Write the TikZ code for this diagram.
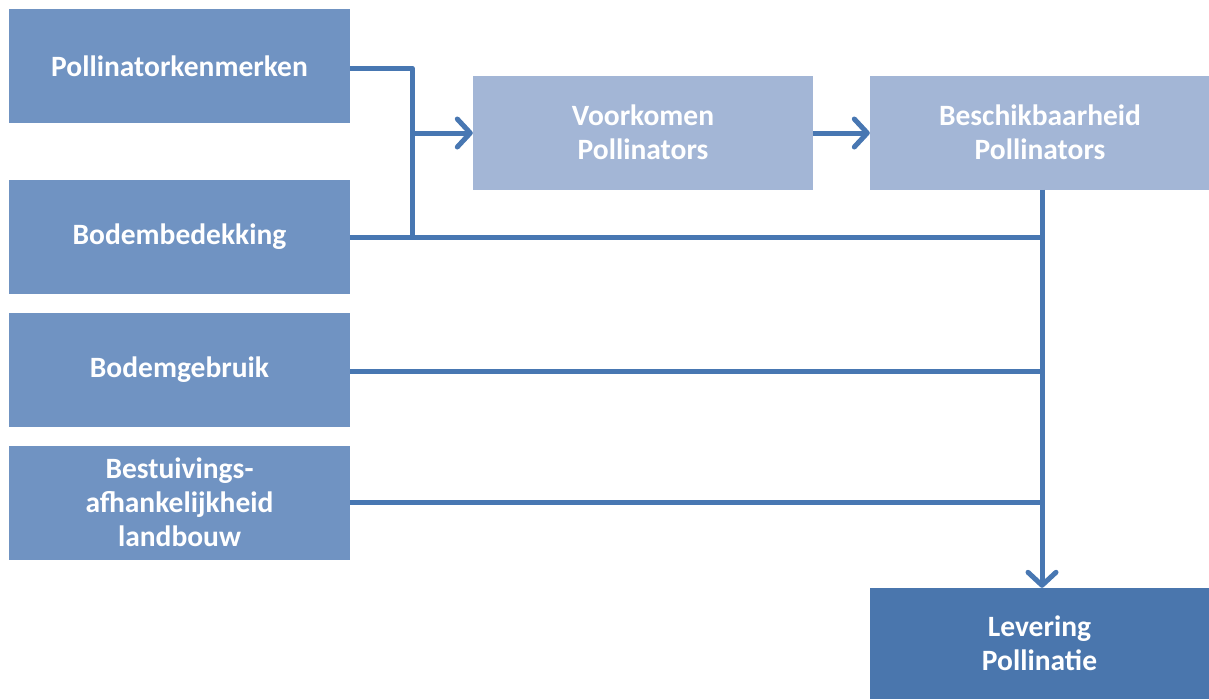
\documentclass[tikz,border=0pt]{standalone}
\usepackage{fontspec}
\setmainfont{Carlito}
\usetikzlibrary{arrows.meta}
\definecolor{boxmid}{HTML}{7093C2}
\definecolor{boxlight}{HTML}{A3B6D6}
\definecolor{boxdark}{HTML}{4A76AD}
\definecolor{linkblue}{HTML}{4877B2}
\tikzset{
  box/.style={draw=none, minimum width=341pt, minimum height=114pt, inner sep=0pt,
    align=center, text=white, font=\fontsize{29.5}{34}\selectfont\bfseries},
  srcbox/.style={box, fill=boxmid},
  midbox/.style={box, fill=boxlight, minimum width=340pt},
  endbox/.style={box, fill=boxdark, minimum width=339pt, minimum height=111pt},
  link/.style={draw=linkblue, line width=5pt},
  tip/.style={-{Straight Barb[length=13pt, width=28pt, line width=5pt, round]}}
}
\begin{document}
\begin{tikzpicture}[x=1pt, y=-1pt]
  \useasboundingbox (0,0) rectangle (1209,699);
  % input factors on the left
  \node[srcbox] (kenm) at (179.5,66) {Pollinatorkenmerken};
  \node[srcbox] (bedek) at (179.5,236.5) {Bodembedekking};
  \node[srcbox] (gebr) at (179.5,369.5) {Bodemgebruik};
  \node[srcbox] (afh) at (179.5,502.5) {Bestuivings-\\afhankelijkheid\\landbouw};
  % pollinator chain
  \node[midbox] (voork) at (643,132.5) {Voorkomen\\Pollinators};
  \node[midbox] (beschik) at (1040,132.5) {Beschikbaarheid\\Pollinators};
  \node[endbox] (lever) at (1039.5,643.5) {Levering\\Pollinatie};
  % junction points
  \coordinate (jtop) at (412,68);
  \coordinate (jmid) at (412,133);
  \coordinate (jbot) at (412,237);
  \coordinate (r1) at (1042,237);
  \coordinate (r2) at (1042,371);
  \coordinate (r3) at (1042,502);
  % connectors
  \draw[link, line join=round] (kenm.east |- jtop) -- (jtop) -- (jbot);
  \draw[link, tip] (jmid) -- (voork.west |- jmid);
  \draw[link, tip] (voork.east |- jmid) -- (beschik.west |- jmid);
  \draw[link] (bedek.east |- jbot) -- (r1);
  \draw[link] (gebr.east |- r2) -- (r2);
  \draw[link] (afh.east |- r3) -- (r3);
  \draw[link, tip] (r1 |- beschik.south) -- (r1 |- lever.north);
\end{tikzpicture}
\end{document}
